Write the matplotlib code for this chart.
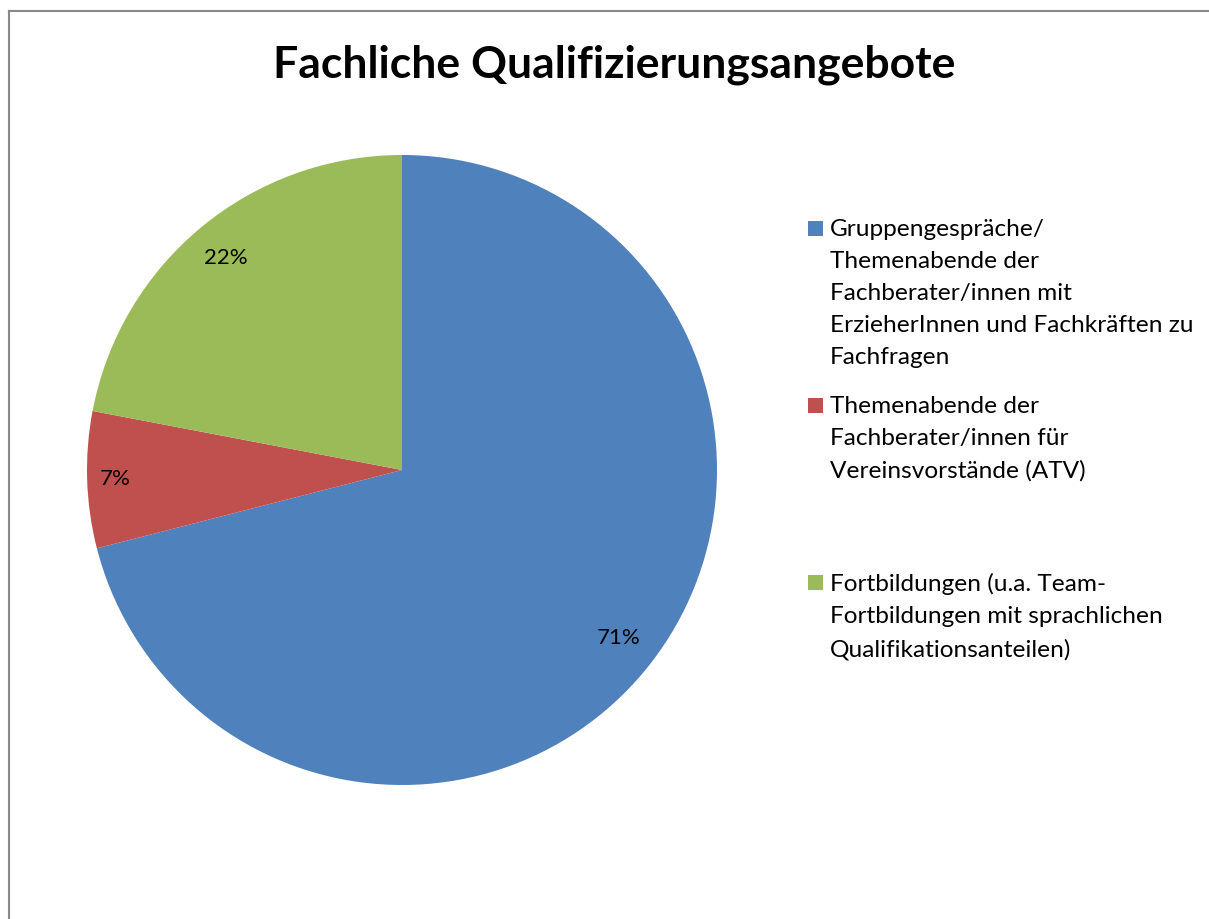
import numpy as np
import matplotlib.pyplot as plt
from matplotlib.lines import Line2D
from matplotlib.patches import Rectangle

plt.rcParams['font.family'] = ['Lato', 'DejaVu Sans']

title = "Fachliche Qualifizierungsangebote"
labels = [
    "Gruppengespräche/\nThemenabende der\nFachberater/innen mit\nErzieherInnen und Fachkräften zu\nFachfragen",
    "Themenabende der\nFachberater/innen für\nVereinsvorstände (ATV)",
    "Fortbildungen (u.a. Team-\nFortbildungen mit sprachlichen\nQualifikationsanteilen)",
]
values = [71, 7, 22]
colors = ['#4F81BD', '#C0504D', '#9BBB59']
pct_dist = [0.87, 0.91, 0.875]

W, H = 1209, 919
fig = plt.figure(figsize=(W / 100, H / 100), dpi=100)

# Rahmen (nur oben und links sichtbar)
fig.add_artist(Line2D([9 / W, 9 / W], [0, 1 - 11 / H], color='#888888', lw=1.5))
fig.add_artist(Line2D([9 / W, 1], [1 - 11 / H, 1 - 11 / H], color='#888888', lw=1.5))

# Kreisdiagramm
cx, cy, r = 402, 470, 315
ax = fig.add_axes([(cx - r) / W, (H - cy - r) / H, 2 * r / W, 2 * r / H])
wedges, _ = ax.pie(values, colors=colors, startangle=90, counterclock=False, radius=1)
ax.set_xlim(-1, 1)
ax.set_ylim(-1, 1)
ax.set_aspect('equal')
ax.axis('off')

for w, v, d in zip(wedges, values, pct_dist):
    ang = np.deg2rad((w.theta1 + w.theta2) / 2)
    ax.text(d * np.cos(ang), d * np.sin(ang), f"{v}%", ha='center', va='center',
            fontsize=16, color='black')

fig.text(614 / W, 1 - 65 / H, title, ha='center', va='center', fontsize=32, fontweight='bold')

# Legende
first_line_y = [228, 405, 582]
for w, lab, y in zip(wedges, labels, first_line_y):
    fig.add_artist(Rectangle((808 / W, 1 - (y + 7.5) / H), 15 / W, 15 / H,
                             facecolor=w.get_facecolor(), edgecolor='none'))
    fig.text(830 / W, 1 - (y - 9) / H, lab, ha='left', va='top', fontsize=17.6,
             linespacing=1.65)

fig.savefig('out.png', dpi=100)
